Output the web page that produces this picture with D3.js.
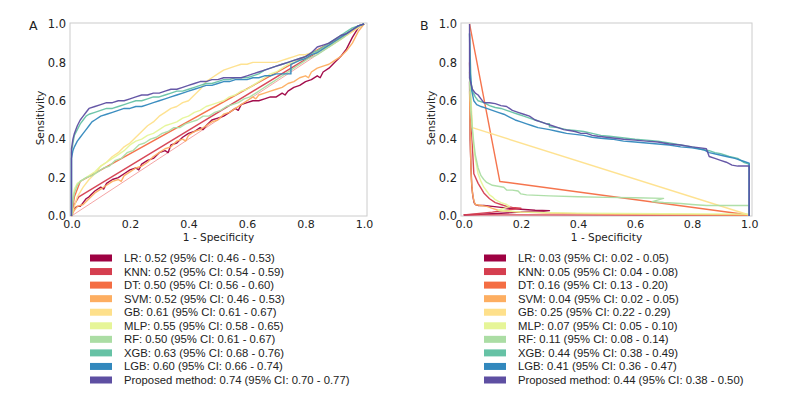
<!DOCTYPE html>
<html><head><meta charset="utf-8">
<script src="https://cdn.jsdelivr.net/npm/d3@7"></script>
<style>body{margin:0;background:#fff}</style>
</head><body>
<svg id="c" width="800" height="404"></svg>
<script>
const models = ["LR","KNN","DT","SVM","GB","MLP","RF","XGB","LGB","Proposed method"];
const colors = ["#9e0142","#d53e4f","#f46d43","#fdae61","#fee08b","#e6f598","#abdda4","#66c2a5","#3288bd","#5e4fa2"];
const legendA = ["LR: 0.52 (95% CI: 0.46 - 0.53)","KNN: 0.52 (95% CI: 0.54 - 0.59)","DT: 0.50 (95% CI: 0.56 - 0.60)","SVM: 0.52 (95% CI: 0.46 - 0.53)","GB: 0.61 (95% CI: 0.61 - 0.67)","MLP: 0.55 (95% CI: 0.58 - 0.65)","RF: 0.50 (95% CI: 0.61 - 0.67)","XGB: 0.63 (95% CI: 0.68 - 0.76)","LGB: 0.60 (95% CI: 0.66 - 0.74)","Proposed method: 0.74 (95% CI: 0.70 - 0.77)"];
const legendB = ["LR: 0.03 (95% CI: 0.02 - 0.05)","KNN: 0.05 (95% CI: 0.04 - 0.08)","DT: 0.16 (95% CI: 0.13 - 0.20)","SVM: 0.04 (95% CI: 0.02 - 0.05)","GB: 0.25 (95% CI: 0.22 - 0.29)","MLP: 0.07 (95% CI: 0.05 - 0.10)","RF: 0.11 (95% CI: 0.08 - 0.14)","XGB: 0.44 (95% CI: 0.38 - 0.49)","LGB: 0.41 (95% CI: 0.36 - 0.47)","Proposed method: 0.44 (95% CI: 0.38 - 0.50)"];
const ticks = [0.0,0.2,0.4,0.6,0.8,1.0];
const chanceLine = [[0,0],[1,1]];

// Panel A curves [1-specificity, sensitivity]
const lrA = [[0,0],[0.01,0.04],[0.02,0.05],[0.03,0.05],[0.04,0.07],[0.05,0.09],[0.06,0.1],[0.08,0.13],[0.1,0.15],[0.11,0.14],[0.12,0.17],[0.14,0.19],[0.16,0.2],[0.18,0.22],[0.2,0.24],[0.22,0.25],[0.23,0.24],[0.24,0.27],[0.26,0.29],[0.28,0.3],[0.3,0.33],[0.32,0.34],[0.33,0.33],[0.34,0.37],[0.36,0.38],[0.38,0.41],[0.4,0.43],[0.42,0.44],[0.44,0.46],[0.45,0.45],[0.46,0.47],[0.48,0.5],[0.5,0.51],[0.52,0.52],[0.54,0.54],[0.56,0.56],[0.57,0.55],[0.58,0.58],[0.6,0.59],[0.62,0.6],[0.64,0.6],[0.66,0.61],[0.68,0.62],[0.7,0.62],[0.72,0.64],[0.73,0.63],[0.74,0.65],[0.76,0.67],[0.78,0.68],[0.8,0.7],[0.82,0.71],[0.84,0.73],[0.85,0.72],[0.86,0.75],[0.88,0.77],[0.9,0.8],[0.92,0.83],[0.94,0.87],[0.96,0.93],[0.98,0.98],[1,1]];
const knnA = [[0,0],[0.01,0.06],[0.025,0.1],[1,1]];
const dtA = [[0,0],[0.01,0.1],[0.03,0.18],[1,1]];
const svmA = [[0,0],[0.01,0.03],[0.02,0.05],[0.04,0.06],[0.06,0.09],[0.08,0.12],[0.1,0.14],[0.12,0.16],[0.14,0.18],[0.16,0.19],[0.17,0.18],[0.18,0.21],[0.2,0.23],[0.22,0.25],[0.24,0.26],[0.26,0.28],[0.28,0.31],[0.3,0.33],[0.32,0.35],[0.34,0.36],[0.36,0.39],[0.38,0.4],[0.39,0.39],[0.4,0.42],[0.42,0.44],[0.44,0.45],[0.46,0.47],[0.48,0.49],[0.5,0.5],[0.52,0.53],[0.54,0.54],[0.56,0.56],[0.58,0.58],[0.6,0.6],[0.62,0.62],[0.63,0.61],[0.64,0.63],[0.66,0.64],[0.68,0.65],[0.7,0.66],[0.72,0.67],[0.74,0.69],[0.76,0.7],[0.78,0.72],[0.8,0.73],[0.81,0.72],[0.82,0.75],[0.84,0.77],[0.86,0.78],[0.88,0.79],[0.9,0.81],[0.92,0.83],[0.94,0.86],[0.96,0.9],[0.98,0.96],[1,1]];
const gbA = [[0,0],[0.01,0.05],[0.02,0.1],[0.04,0.15],[0.06,0.19],[0.08,0.22],[0.1,0.26],[0.12,0.28],[0.14,0.31],[0.16,0.33],[0.18,0.36],[0.2,0.38],[0.22,0.41],[0.24,0.44],[0.26,0.47],[0.28,0.49],[0.3,0.52],[0.32,0.54],[0.34,0.56],[0.36,0.57],[0.38,0.59],[0.4,0.6],[0.42,0.63],[0.44,0.66],[0.46,0.7],[0.48,0.72],[0.5,0.74],[0.52,0.76],[0.54,0.77],[0.56,0.78],[0.58,0.79],[0.6,0.79],[0.62,0.8],[0.64,0.8],[0.66,0.8],[0.68,0.8],[0.7,0.8],[0.72,0.81],[0.74,0.82],[0.76,0.83],[0.78,0.84],[0.8,0.84],[0.82,0.85],[0.84,0.86],[0.86,0.87],[0.88,0.88],[0.9,0.9],[0.92,0.92],[0.94,0.94],[0.96,0.96],[0.98,0.98],[1,1]];
const mlpA = [[0,0],[0.005,0.1],[0.01,0.14],[0.02,0.17],[0.04,0.19],[0.06,0.21],[0.08,0.23],[0.1,0.26],[0.12,0.28],[0.14,0.3],[0.16,0.32],[0.18,0.34],[0.2,0.37],[0.22,0.39],[0.24,0.4],[0.26,0.42],[0.28,0.43],[0.3,0.45],[0.32,0.47],[0.34,0.48],[0.36,0.49],[0.38,0.51],[0.4,0.52],[0.42,0.54],[0.44,0.55],[0.46,0.57],[0.48,0.58],[0.5,0.59],[0.52,0.6],[0.54,0.62],[0.56,0.63],[0.58,0.65],[0.6,0.66],[0.62,0.68],[0.64,0.7],[0.66,0.72],[0.68,0.74],[0.7,0.75],[0.72,0.77],[0.74,0.79],[0.76,0.8],[0.78,0.81],[0.8,0.82],[0.82,0.84],[0.84,0.85],[0.86,0.87],[0.88,0.89],[0.9,0.91],[0.92,0.93],[0.94,0.95],[0.96,0.97],[0.98,0.99],[1,1]];
const rfA = [[0,0],[0.005,0.08],[0.01,0.12],[0.02,0.16],[0.03,0.18],[0.05,0.2],[0.07,0.21],[0.09,0.23],[0.11,0.25],[0.13,0.26],[0.15,0.29],[0.17,0.3],[0.19,0.33],[0.21,0.34],[0.23,0.37],[0.25,0.38],[0.27,0.4],[0.29,0.41],[0.31,0.43],[0.33,0.44],[0.35,0.46],[0.37,0.46],[0.39,0.48],[0.41,0.49],[0.43,0.5],[0.45,0.52],[0.47,0.52],[0.49,0.54],[0.51,0.55],[0.53,0.57],[0.55,0.58],[0.57,0.59],[0.59,0.61],[0.61,0.62],[0.63,0.64],[0.65,0.66],[0.67,0.68],[0.69,0.7],[0.71,0.72],[0.73,0.74],[0.75,0.76],[0.77,0.78],[0.79,0.8],[0.81,0.82],[0.84,0.84],[0.87,0.87],[0.9,0.9],[0.93,0.93],[0.96,0.97],[1,1]];
const xgbA = [[0,0],[0,0.33],[0.005,0.38],[0.01,0.42],[0.02,0.45],[0.03,0.48],[0.04,0.5],[0.05,0.52],[0.06,0.53],[0.08,0.54],[0.1,0.55],[0.12,0.56],[0.14,0.56],[0.16,0.57],[0.18,0.58],[0.2,0.59],[0.22,0.6],[0.24,0.6],[0.26,0.61],[0.28,0.62],[0.3,0.62],[0.32,0.63],[0.34,0.64],[0.36,0.65],[0.38,0.65],[0.4,0.66],[0.42,0.67],[0.44,0.68],[0.46,0.69],[0.48,0.69],[0.5,0.7],[0.52,0.71],[0.54,0.71],[0.56,0.72],[0.58,0.72],[0.6,0.72],[0.62,0.73],[0.64,0.74],[0.66,0.76],[0.68,0.77],[0.7,0.78],[0.72,0.79],[0.74,0.8],[0.76,0.81],[0.78,0.82],[0.8,0.83],[0.82,0.85],[0.84,0.86],[0.86,0.88],[0.88,0.9],[0.9,0.92],[0.92,0.94],[0.94,0.96],[0.96,0.98],[0.98,0.99],[1,1]];
const lgbA = [[0,0],[0,0.3],[0.005,0.34],[0.01,0.36],[0.02,0.39],[0.03,0.41],[0.04,0.43],[0.05,0.45],[0.06,0.47],[0.07,0.49],[0.08,0.5],[0.1,0.52],[0.12,0.53],[0.14,0.54],[0.16,0.55],[0.18,0.56],[0.2,0.56],[0.22,0.57],[0.24,0.57],[0.26,0.58],[0.28,0.59],[0.3,0.6],[0.32,0.61],[0.34,0.62],[0.36,0.63],[0.38,0.64],[0.4,0.65],[0.42,0.66],[0.44,0.67],[0.46,0.68],[0.48,0.68],[0.5,0.69],[0.52,0.7],[0.54,0.7],[0.56,0.71],[0.58,0.71],[0.6,0.71],[0.62,0.72],[0.64,0.72],[0.66,0.73],[0.68,0.73],[0.7,0.74],[0.72,0.74],[0.75,0.74],[0.75,0.79],[0.78,0.81],[0.8,0.82],[0.82,0.84],[0.84,0.85],[0.86,0.87],[0.88,0.89],[0.9,0.91],[0.92,0.93],[0.94,0.95],[0.96,0.97],[0.98,0.99],[1,1]];
const propA = [[0,0],[0,0.35],[0.005,0.4],[0.01,0.43],[0.02,0.47],[0.03,0.5],[0.04,0.52],[0.05,0.54],[0.06,0.56],[0.08,0.57],[0.1,0.58],[0.12,0.59],[0.14,0.59],[0.16,0.6],[0.18,0.6],[0.2,0.61],[0.22,0.62],[0.24,0.63],[0.26,0.63],[0.28,0.64],[0.3,0.64],[0.32,0.65],[0.34,0.66],[0.36,0.66],[0.38,0.67],[0.4,0.68],[0.42,0.69],[0.44,0.7],[0.46,0.7],[0.48,0.71],[0.5,0.71],[0.52,0.72],[0.54,0.72],[0.56,0.72],[0.58,0.72],[0.6,0.73],[0.62,0.74],[0.64,0.75],[0.66,0.76],[0.68,0.77],[0.7,0.78],[0.72,0.79],[0.74,0.8],[0.76,0.81],[0.78,0.82],[0.8,0.83],[0.82,0.85],[0.84,0.88],[0.86,0.89],[0.88,0.9],[0.9,0.92],[0.92,0.94],[0.94,0.95],[0.96,0.97],[0.98,0.99],[1,1]];

// Panel B curves
const lrB = [[0.02,0.7],[0.022,0.4],[0.025,0.25],[0.028,0.15],[0.032,0.1],[0.036,0.07],[0.04,0.06],[0.05,0.055],[0.07,0.055],[0.1,0.05],[0.13,0.045],[0.16,0.04],[0.2,0.035],[0.25,0.03],[0.3,0.028],[0.28,0.024],[0.2,0.02],[0.1,0.012],[0.0,0.005]];
const knnB = [[0.02,0.8],[0.025,0.5],[0.035,0.22],[0.05,0.17],[0.07,0.12],[0.09,0.09],[0.11,0.07],[0.13,0.06],[0.15,0.05],[0.17,0.045],[0.2,0.04],[0.17,0.035],[0.1,0.02],[0.0,0.006],[1.0,0.004]];
const dtB = [[0.02,1.0],[0.126,0.18],[1.0,0.005]];
const svmB = [[0.02,0.65],[0.023,0.35],[0.026,0.2],[0.03,0.12],[0.035,0.08],[0.04,0.06],[0.06,0.055],[0.08,0.05],[0.1,0.04],[0.12,0.03],[0.15,0.025],[0.2,0.02],[0.3,0.015],[0.5,0.01],[1.0,0.005]];
const gbB = [[0.02,0.75],[0.03,0.46],[1.0,0.005]];
const mlpB = [[0.02,0.75],[0.025,0.55],[0.03,0.45],[0.035,0.35],[0.04,0.3],[0.05,0.22],[0.06,0.18],[0.07,0.15],[0.08,0.13],[0.09,0.11],[0.1,0.1],[0.11,0.085],[0.13,0.07],[0.15,0.06],[0.16,0.05],[0.14,0.04],[0.12,0.03],[0.2,0.02],[0.4,0.015],[0.7,0.012],[1.0,0.01]];
const rfB = [[0.02,0.72],[0.025,0.55],[0.03,0.45],[0.035,0.38],[0.04,0.32],[0.05,0.25],[0.06,0.21],[0.07,0.19],[0.08,0.175],[0.1,0.16],[0.12,0.155],[0.14,0.15],[0.15,0.135],[0.17,0.135],[0.19,0.13],[0.2,0.115],[0.22,0.11],[0.3,0.105],[0.4,0.1],[0.5,0.097],[0.6,0.095],[0.7,0.092],[0.66,0.075],[0.7,0.07],[0.76,0.065],[0.8,0.06],[0.85,0.055],[1.0,0.055],[1.0,0.0]];
const xgbB = [[0.02,0.95],[0.025,0.7],[0.03,0.65],[0.04,0.62],[0.05,0.6],[0.07,0.59],[0.09,0.575],[0.11,0.565],[0.13,0.56],[0.15,0.55],[0.17,0.54],[0.19,0.53],[0.21,0.52],[0.23,0.51],[0.25,0.5],[0.27,0.49],[0.29,0.48],[0.3,0.48],[0.3,0.465],[0.33,0.46],[0.36,0.45],[0.39,0.445],[0.42,0.44],[0.45,0.43],[0.48,0.42],[0.51,0.415],[0.54,0.41],[0.57,0.405],[0.6,0.4],[0.64,0.395],[0.68,0.39],[0.72,0.38],[0.76,0.37],[0.8,0.36],[0.84,0.345],[0.86,0.34],[0.88,0.33],[0.9,0.325],[0.93,0.31],[0.96,0.3],[0.98,0.28],[1.0,0.27],[1.0,0.0]];
const lgbB = [[0.02,0.95],[0.022,0.75],[0.028,0.65],[0.035,0.6],[0.045,0.58],[0.06,0.57],[0.08,0.56],[0.1,0.55],[0.12,0.54],[0.14,0.53],[0.16,0.515],[0.18,0.5],[0.2,0.49],[0.22,0.48],[0.24,0.47],[0.26,0.46],[0.28,0.455],[0.3,0.45],[0.33,0.44],[0.36,0.43],[0.39,0.425],[0.42,0.42],[0.45,0.41],[0.48,0.405],[0.52,0.4],[0.56,0.39],[0.6,0.385],[0.64,0.38],[0.68,0.375],[0.72,0.37],[0.76,0.36],[0.8,0.355],[0.84,0.345],[0.86,0.33],[0.89,0.32],[0.92,0.31],[0.95,0.3],[0.98,0.285],[1.0,0.275],[1.0,0.0]];
const propB = [[0.02,1.0],[0.02,0.72],[0.03,0.66],[0.04,0.64],[0.05,0.63],[0.06,0.61],[0.07,0.59],[0.09,0.59],[0.11,0.585],[0.13,0.575],[0.15,0.57],[0.17,0.55],[0.19,0.54],[0.21,0.53],[0.23,0.52],[0.25,0.5],[0.27,0.49],[0.29,0.48],[0.31,0.47],[0.33,0.46],[0.35,0.45],[0.37,0.445],[0.39,0.44],[0.41,0.43],[0.43,0.43],[0.45,0.42],[0.47,0.415],[0.5,0.41],[0.53,0.405],[0.56,0.4],[0.6,0.395],[0.64,0.39],[0.68,0.385],[0.72,0.375],[0.76,0.37],[0.8,0.36],[0.83,0.355],[0.85,0.35],[0.86,0.31],[0.88,0.3],[0.9,0.29],[0.92,0.28],[0.94,0.265],[0.96,0.26],[1.0,0.26],[1.0,0.0]];

const curvesA = [lrA,knnA,dtA,svmA,gbA,mlpA,rfA,xgbA,lgbA,propA];
const curvesB = [lrB,knnB,dtB,svmB,gbB,mlpB,rfB,xgbB,lgbB,propB];

const svg = d3.select("#c");
const tickFont = "'DejaVu Sans', sans-serif";

function panel(opts){
  const x = d3.scaleLinear().domain(opts.xdom).range([opts.left, opts.right]);
  const y = d3.scaleLinear().domain([0, 1.005]).range([216, 23]);
  const g = svg.append("g");
  g.append("rect").attr("x", opts.left).attr("y", 23).attr("width", opts.right-opts.left).attr("height", 193)
    .attr("fill","#fff").attr("stroke","#cccccc").attr("stroke-width",1);
  g.append("clipPath").attr("id","clip"+opts.id).append("rect")
    .attr("x", opts.left).attr("y", 22).attr("width", opts.right-opts.left).attr("height", 196);
  const plot = g.append("g").attr("clip-path","url(#clip"+opts.id+")");
  if (opts.chance) {
    plot.append("path").datum(chanceLine).attr("fill","none").attr("stroke","#f08080").attr("stroke-width",0.9).attr("opacity",0.8)
      .attr("d", d3.line().x(d=>x(d[0])).y(d=>y(d[1])));
  }
  const line = d3.line().x(d=>x(d[0])).y(d=>y(d[1]));
  opts.curves.forEach((c,i)=>{
    plot.append("path").datum(c).attr("fill","none").attr("stroke",colors[i])
      .attr("stroke-width",1.4).attr("stroke-linejoin","round").attr("opacity",0.95).attr("d",line);
  });
  const xa = g.append("g").attr("transform","translate(0,216)")
    .call(d3.axisBottom(x).tickValues(ticks).tickSize(0).tickPadding(4).tickFormat(d3.format(".1f")));
  xa.select(".domain").remove();
  xa.selectAll("text").attr("font-family",tickFont).attr("font-size",11).attr("fill","#222");
  const ya = g.append("g").attr("transform","translate("+opts.left+",0)")
    .call(d3.axisLeft(y).tickValues(ticks).tickSize(0).tickPadding(4).tickFormat(d3.format(".1f")));
  ya.select(".domain").remove();
  ya.selectAll("text").attr("font-family",tickFont).attr("font-size",11.5).attr("fill","#222");
  g.append("text").attr("x",(opts.left+opts.right)/2).attr("y",241).attr("text-anchor","middle")
    .attr("font-family",tickFont).attr("font-size",10.5).attr("fill","#222").text("1 - Specificity");
  g.append("text").attr("transform","translate("+(opts.left-26)+","+118+") rotate(-90)").attr("text-anchor","middle")
    .attr("font-family",tickFont).attr("font-size",10.5).attr("fill","#222").text("Sensitivity");
  g.append("text").attr("x",opts.left-41).attr("y",30).attr("font-family",tickFont).attr("font-size",12.5).attr("fill","#222").text(opts.label);
  const lg = svg.append("g");
  const rowY = d3.scaleLinear().domain([0,9]).range([258,380]);
  opts.legend.forEach((t,i)=>{
    lg.append("rect").attr("x",opts.legX).attr("y",rowY(i)-3.5).attr("width",22).attr("height",7).attr("fill",colors[i]);
    lg.append("text").attr("x",opts.legX+34).attr("y",rowY(i)+4).attr("font-family","'Liberation Sans', Arial, sans-serif")
      .attr("font-size",11.3).attr("fill","#222").text(t);
  });
}

panel({id:"A", left:70, right:367, xdom:[-0.005,1.01], curves:curvesA, chance:true, label:"A", legend:legendA, legX:90});
panel({id:"B", left:461, right:752, xdom:[-0.01,1.01], curves:curvesB, chance:false, label:"B", legend:legendB, legX:484});
</script>
</body></html>
